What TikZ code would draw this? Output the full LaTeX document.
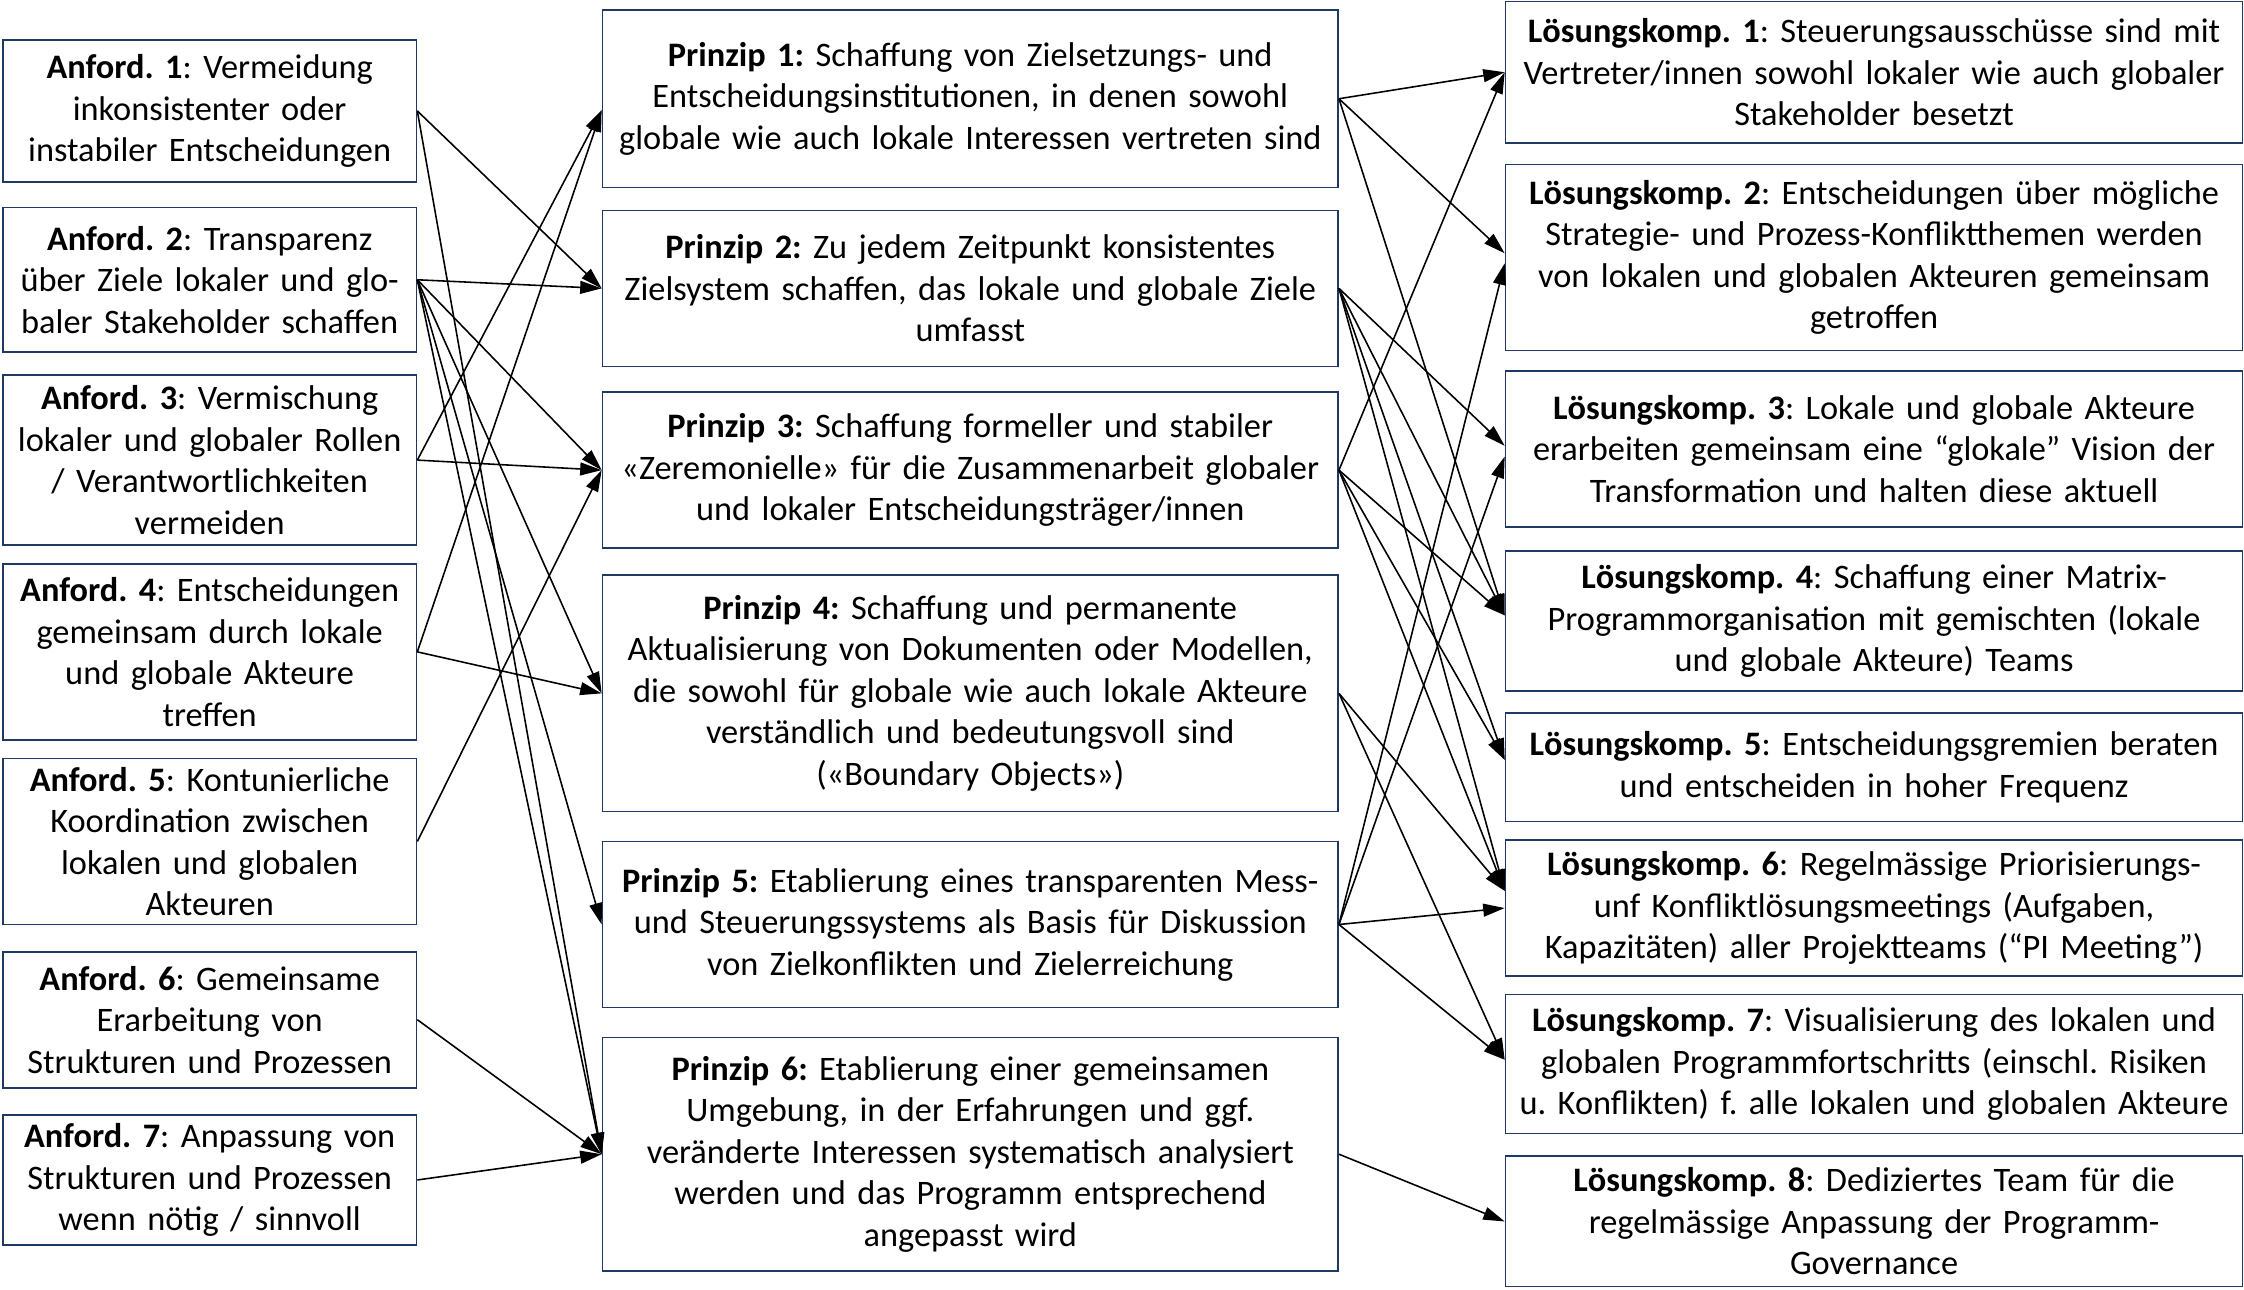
\documentclass[tikz,border=0pt]{standalone}
\usepackage{fontspec}
\setmainfont{Carlito}
\usetikzlibrary{arrows.meta}
\definecolor{boxblue}{RGB}{31,56,100}
\frenchspacing
\begin{document}
\begin{tikzpicture}[x=1pt,y=-1pt,
  font=\fontsize{24}{29}\selectfont,
  box/.style={draw=boxblue, line width=1.2pt, align=center, inner xsep=4pt, inner ysep=0pt, fill=white},
  abox/.style={box, text width=281pt},
  pbox/.style={box, text width=506pt},
  lbox/.style={box, text width=507pt},
  arr/.style={-{Triangle[length=15pt,width=9pt]}, line width=1.1pt, black}
]
\useasboundingbox (0,0) rectangle (1568,900.7);
\fill[white] (0,0) rectangle (1568,900.7);

% Anforderungen
\node[abox, minimum height=99pt]  (A1) at (146.5,77.5) {\textbf{Anford. 1}: Vermeidung\\ inkonsistenter oder\\ instabiler Entscheidungen};
\node[abox, minimum height=101pt] (A2) at (146.5,195.5) {\textbf{Anford. 2}: Transparenz\\ über Ziele lokaler und glo-\\ baler Stakeholder schaffen};
\node[abox, minimum height=119pt] (A3) at (146.5,321.5) {\textbf{Anford. 3}: Vermischung\\ lokaler und globaler Rollen\\ / Verantwortlichkeiten\\ vermeiden};
\node[abox, minimum height=123pt] (A4) at (146.5,455.5) {\textbf{Anford. 4}: Entscheidungen\\ gemeinsam durch lokale\\ und globale Akteure\\ treffen};
\node[abox, minimum height=116pt] (A5) at (146.5,588) {\textbf{Anford. 5}: Kontunierliche\\ Koordination zwischen\\ lokalen und globalen\\ Akteuren};
\node[abox, minimum height=95pt]  (A6) at (146.5,712.5) {\textbf{Anford. 6}: Gemeinsame\\ Erarbeitung von\\ Strukturen und Prozessen};
\node[abox, minimum height=91pt]  (A7) at (146.5,824.5) {\textbf{Anford. 7}: Anpassung von\\ Strukturen und Prozessen\\ wenn nötig / sinnvoll};

% Prinzipien
\node[pbox, minimum height=124pt] (P1) at (678,69) {\textbf{Prinzip 1:} Schaffung von Zielsetzungs- und\\ Entscheidungsinstitutionen, in denen sowohl\\ globale wie auch lokale Interessen vertreten sind};
\node[pbox, minimum height=109pt] (P2) at (678,201.5) {\textbf{Prinzip 2:} Zu jedem Zeitpunkt konsistentes\\ Zielsystem schaffen, das lokale und globale Ziele\\ umfasst};
\node[pbox, minimum height=109pt] (P3) at (678,328.5) {\textbf{Prinzip 3:} Schaffung formeller und stabiler\\ «Zeremonielle» für die Zusammenarbeit globaler\\ und lokaler Entscheidungsträger/innen};
\node[pbox, minimum height=165pt] (P4) at (678,484.5) {\textbf{Prinzip 4:} Schaffung und permanente\\ Aktualisierung von Dokumenten oder Modellen,\\ die sowohl für globale wie auch lokale Akteure\\ verständlich und bedeutungsvoll sind\\ («Boundary Objects»)};
\node[pbox, minimum height=116pt] (P5) at (678,646) {\textbf{Prinzip 5:} Etablierung eines transparenten Mess-\\ und Steuerungssystems als Basis für Diskussion\\ von Zielkonflikten und Zielerreichung};
\node[pbox, minimum height=163pt] (P6) at (678,806.5) {\textbf{Prinzip 6:} Etablierung einer gemeinsamen\\ Umgebung, in der Erfahrungen und ggf.\\ veränderte Interessen systematisch analysiert\\ werden und das Programm entsprechend\\ angepasst wird};

% Loesungskomponenten
\node[lbox, minimum height=99pt]  (L1) at (1309.5,50.5) {\textbf{Lösungskomp. 1}: Steuerungsausschüsse sind mit\\ Vertreter/innen sowohl lokaler wie auch globaler\\ Stakeholder besetzt};
\node[lbox, minimum height=130pt] (L2) at (1309.5,180) {\textbf{Lösungskomp. 2}: Entscheidungen über mögliche\\ Strategie- und Prozess-Konfliktthemen werden\\ von lokalen und globalen Akteuren gemeinsam\\ getroffen};
\node[lbox, minimum height=109pt] (L3) at (1309.5,313.5) {\textbf{Lösungskomp. 3}: Lokale und globale Akteure\\ erarbeiten gemeinsam eine “glokale” Vision der\\ Transformation und halten diese aktuell};
\node[lbox, minimum height=98pt]  (L4) at (1309.5,434) {\textbf{Lösungskomp. 4}: Schaffung einer Matrix-\\ Programmorganisation mit gemischten (lokale\\ und globale Akteure) Teams};
\node[lbox, minimum height=76pt]  (L5) at (1309.5,536) {\textbf{Lösungskomp. 5}: Entscheidungsgremien beraten\\ und entscheiden in hoher Frequenz};
\node[lbox, minimum height=95pt]  (L6) at (1309.5,634.5) {\textbf{Lösungskomp. 6}: Regelmässige Priorisierungs-\\ unf Konfliktlösungsmeetings (Aufgaben,\\ Kapazitäten) aller Projektteams (“PI Meeting”)};
\node[lbox, minimum height=97pt]  (L7) at (1309.5,743.5) {\textbf{Lösungskomp. 7}: Visualisierung des lokalen und\\ globalen Programmfortschritts (einschl. Risiken\\ u. Konflikten) f. alle lokalen und globalen Akteure};
\node[lbox, minimum height=91pt]  (L8) at (1309.5,853.5) {\textbf{Lösungskomp. 8}: Dediziertes Team für die\\ regelmässige Anpassung der Programm-\\ Governance};

% Anforderungen -> Prinzipien
\draw[arr] (A1.east) -- (P2.west);
\draw[arr] (A1.east) -- (P6.west);
\draw[arr] (A2.east) -- (P2.west);
\draw[arr] (A2.east) -- (P3.west);
\draw[arr] (A2.east) -- (P4.west);
\draw[arr] (A2.east) -- (P5.west);
\draw[arr] (A2.east) -- (P6.west);
\draw[arr] (A3.east) -- ([yshift=-8pt]P1.west);
\draw[arr] (A3.east) -- (P3.west);
\draw[arr] (A4.east) -- ([yshift=-8pt]P1.west);
\draw[arr] (A4.east) -- (P4.west);
\draw[arr] (A5.east) -- (P3.west);
\draw[arr] (A6.east) -- (P6.west);
\draw[arr] (A7.east) -- (P6.west);

% Prinzipien -> Loesungskomponenten
\draw[arr] (P1.east) -- (L1.west);
\draw[arr] (P1.east) -- ([yshift=3pt]L2.west);
\draw[arr] (P1.east) -- ([yshift=4pt]L4.west);
\draw[arr] (P2.east) -- ([yshift=2pt]L3.west);
\draw[arr] (P2.east) -- ([yshift=4pt]L4.west);
\draw[arr] (P2.east) -- ([yshift=5pt]L5.west);
\draw[arr] (P2.east) -- ([yshift=12pt]L6.west);
\draw[arr] (P3.east) -- (L1.west);
\draw[arr] (P3.east) -- ([yshift=4pt]L4.west);
\draw[arr] (P3.east) -- ([yshift=5pt]L5.west);
\draw[arr] (P3.east) -- ([yshift=12pt]L6.west);
\draw[arr] (P4.east) -- ([yshift=12pt]L6.west);
\draw[arr] (P4.east) -- ([yshift=3pt]L7.west);
\draw[arr] (P5.east) -- ([yshift=-4pt]L2.west);
\draw[arr] (P5.east) -- ([yshift=-5.5pt]L3.west);
\draw[arr] (P5.east) -- (L6.west);
\draw[arr] (P5.east) -- ([yshift=3pt]L7.west);
\draw[arr] (P6.east) -- (L8.west);
\end{tikzpicture}
\end{document}
